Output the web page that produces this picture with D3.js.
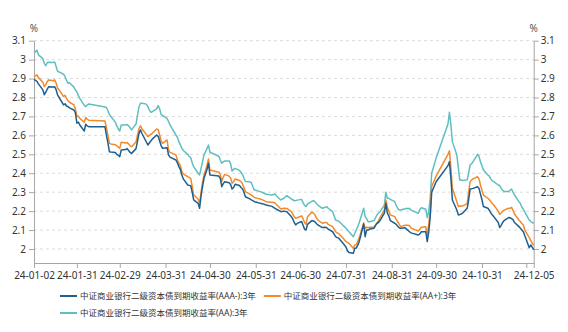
<!DOCTYPE html>
<html><head><meta charset="utf-8">
<script src="https://cdn.jsdelivr.net/npm/d3@7"></script>
<style>
html,body{margin:0;padding:0;background:#fff;}
svg{display:block;font-family:"Noto Sans","Noto Sans CJK SC",sans-serif;}
</style></head><body>
<svg id="chart" width="568" height="332"></svg>
<script>
const dates = ["2024-01-02","2024-01-03","2024-01-04","2024-01-05","2024-01-08","2024-01-09","2024-01-10","2024-01-11","2024-01-12","2024-01-15","2024-01-16","2024-01-17","2024-01-18","2024-01-19","2024-01-22","2024-01-23","2024-01-24","2024-01-25","2024-01-26","2024-01-29","2024-01-30","2024-01-31","2024-02-01","2024-02-02","2024-02-05","2024-02-06","2024-02-07","2024-02-08","2024-02-19","2024-02-20","2024-02-21","2024-02-22","2024-02-23","2024-02-26","2024-02-27","2024-02-28","2024-02-29","2024-03-01","2024-03-04","2024-03-05","2024-03-06","2024-03-07","2024-03-08","2024-03-11","2024-03-12","2024-03-13","2024-03-14","2024-03-15","2024-03-18","2024-03-19","2024-03-20","2024-03-21","2024-03-22","2024-03-25","2024-03-26","2024-03-27","2024-03-28","2024-03-29","2024-04-01","2024-04-02","2024-04-03","2024-04-07","2024-04-08","2024-04-09","2024-04-10","2024-04-11","2024-04-12","2024-04-15","2024-04-16","2024-04-17","2024-04-18","2024-04-19","2024-04-22","2024-04-23","2024-04-24","2024-04-25","2024-04-26","2024-04-28","2024-04-29","2024-04-30","2024-05-06","2024-05-07","2024-05-08","2024-05-09","2024-05-10","2024-05-13","2024-05-14","2024-05-15","2024-05-16","2024-05-17","2024-05-20","2024-05-21","2024-05-22","2024-05-23","2024-05-24","2024-05-27","2024-05-28","2024-05-29","2024-05-30","2024-05-31","2024-06-03","2024-06-05","2024-06-07","2024-06-11","2024-06-13","2024-06-14","2024-06-17","2024-06-19","2024-06-21","2024-06-24","2024-06-25","2024-06-26","2024-06-27","2024-06-28","2024-07-01","2024-07-02","2024-07-03","2024-07-04","2024-07-05","2024-07-08","2024-07-09","2024-07-10","2024-07-11","2024-07-12","2024-07-15","2024-07-17","2024-07-18","2024-07-19","2024-07-22","2024-07-23","2024-07-24","2024-07-25","2024-07-26","2024-07-29","2024-07-30","2024-07-31","2024-08-01","2024-08-02","2024-08-05","2024-08-06","2024-08-07","2024-08-08","2024-08-09","2024-08-12","2024-08-13","2024-08-14","2024-08-15","2024-08-16","2024-08-19","2024-08-20","2024-08-21","2024-08-22","2024-08-23","2024-08-26","2024-08-27","2024-08-28","2024-08-29","2024-08-30","2024-09-02","2024-09-03","2024-09-04","2024-09-05","2024-09-06","2024-09-09","2024-09-10","2024-09-11","2024-09-12","2024-09-13","2024-09-18","2024-09-19","2024-09-20","2024-09-23","2024-09-24","2024-09-25","2024-09-26","2024-09-27","2024-09-30","2024-10-08","2024-10-09","2024-10-10","2024-10-11","2024-10-14","2024-10-15","2024-10-16","2024-10-17","2024-10-18","2024-10-21","2024-10-22","2024-10-23","2024-10-24","2024-10-25","2024-10-28","2024-10-29","2024-10-30","2024-10-31","2024-11-01","2024-11-04","2024-11-05","2024-11-06","2024-11-07","2024-11-08","2024-11-11","2024-11-12","2024-11-13","2024-11-14","2024-11-15","2024-11-18","2024-11-19","2024-11-20","2024-11-21","2024-11-22","2024-11-25","2024-11-26","2024-11-27","2024-11-28","2024-11-29","2024-12-02","2024-12-03","2024-12-04","2024-12-05"];

const yieldAAAminus = [2.896,2.890,2.885,2.872,2.840,2.815,2.828,2.845,2.857,2.855,2.857,2.840,2.813,2.800,2.761,2.767,2.755,2.752,2.745,2.734,2.720,2.664,2.670,2.655,2.623,2.659,2.650,2.646,2.646,2.600,2.560,2.514,2.512,2.510,2.500,2.495,2.488,2.523,2.525,2.530,2.520,2.510,2.505,2.530,2.570,2.610,2.629,2.610,2.565,2.549,2.560,2.570,2.580,2.602,2.595,2.570,2.545,2.532,2.535,2.497,2.485,2.470,2.455,2.435,2.420,2.391,2.370,2.338,2.336,2.334,2.300,2.259,2.241,2.215,2.280,2.330,2.373,2.420,2.453,2.391,2.385,2.373,2.329,2.345,2.355,2.350,2.340,2.317,2.325,2.342,2.335,2.325,2.318,2.300,2.276,2.265,2.259,2.255,2.250,2.248,2.241,2.238,2.232,2.225,2.215,2.210,2.197,2.200,2.197,2.171,2.160,2.140,2.127,2.135,2.145,2.125,2.105,2.100,2.130,2.150,2.148,2.144,2.135,2.127,2.113,2.115,2.112,2.105,2.091,2.078,2.065,2.060,2.058,2.030,2.021,2.010,1.990,1.982,1.977,2.004,2.005,2.020,2.040,2.132,2.065,2.100,2.100,2.105,2.110,2.125,2.136,2.140,2.150,2.189,2.241,2.190,2.175,2.150,2.136,2.130,2.120,2.112,2.109,2.112,2.105,2.098,2.091,2.085,2.074,2.080,2.091,2.091,2.039,2.090,2.170,2.300,2.355,2.440,2.461,2.373,2.259,2.206,2.180,2.182,2.185,2.190,2.215,2.260,2.317,2.318,2.320,2.329,2.320,2.290,2.260,2.224,2.215,2.205,2.190,2.180,2.171,2.140,2.113,2.125,2.140,2.150,2.166,2.165,2.160,2.155,2.140,2.118,2.110,2.100,2.091,2.070,2.007,2.021,2.010,1.995];

const yieldAAplus = [2.910,2.915,2.919,2.905,2.880,2.858,2.868,2.885,2.893,2.888,2.893,2.875,2.849,2.840,2.805,2.812,2.795,2.782,2.775,2.761,2.740,2.699,2.702,2.690,2.669,2.694,2.685,2.680,2.676,2.640,2.600,2.558,2.555,2.550,2.545,2.538,2.532,2.564,2.560,2.562,2.555,2.545,2.540,2.565,2.600,2.635,2.651,2.635,2.605,2.593,2.600,2.605,2.611,2.634,2.630,2.602,2.570,2.558,2.576,2.523,2.510,2.497,2.470,2.453,2.440,2.408,2.395,2.382,2.378,2.373,2.330,2.285,2.264,2.241,2.300,2.350,2.391,2.440,2.475,2.417,2.405,2.394,2.356,2.380,2.394,2.385,2.375,2.347,2.355,2.370,2.362,2.355,2.345,2.325,2.303,2.290,2.285,2.280,2.272,2.270,2.264,2.258,2.250,2.247,2.243,2.235,2.211,2.215,2.214,2.197,2.185,2.170,2.162,2.165,2.175,2.160,2.140,2.130,2.170,2.195,2.190,2.180,2.165,2.153,2.136,2.140,2.140,2.130,2.118,2.105,2.091,2.085,2.082,2.058,2.048,2.040,2.035,2.030,2.004,2.021,2.022,2.040,2.060,2.138,2.109,2.115,2.112,2.115,2.115,2.125,2.136,2.150,2.165,2.206,2.259,2.220,2.200,2.180,2.171,2.155,2.144,2.130,2.118,2.125,2.125,2.125,2.123,2.110,2.095,2.105,2.115,2.118,2.074,2.130,2.200,2.330,2.385,2.500,2.518,2.426,2.321,2.250,2.224,2.228,2.225,2.228,2.240,2.300,2.356,2.365,2.370,2.382,2.370,2.338,2.310,2.285,2.268,2.260,2.250,2.240,2.232,2.200,2.183,2.190,2.200,2.205,2.215,2.215,2.220,2.205,2.185,2.153,2.145,2.135,2.127,2.100,2.060,2.045,2.030,2.020];

const yieldAA = [3.046,3.040,3.050,3.025,3.005,2.980,2.968,2.985,2.986,2.985,2.988,2.962,2.937,2.935,2.923,2.910,2.890,2.875,2.878,2.855,2.840,2.830,2.810,2.795,2.758,2.752,2.760,2.766,2.750,2.747,2.730,2.710,2.700,2.670,2.650,2.635,2.623,2.655,2.655,2.657,2.650,2.640,2.629,2.660,2.705,2.750,2.770,2.770,2.765,2.752,2.735,2.722,2.725,2.740,2.757,2.740,2.711,2.705,2.690,2.673,2.655,2.602,2.590,2.567,2.550,2.532,2.520,2.500,2.490,2.482,2.455,2.435,2.400,2.391,2.426,2.460,2.497,2.530,2.549,2.511,2.490,2.470,2.453,2.460,2.465,2.465,2.450,2.412,2.420,2.426,2.415,2.405,2.394,2.375,2.356,2.355,2.350,2.330,2.312,2.310,2.303,2.297,2.289,2.285,2.290,2.280,2.259,2.268,2.282,2.265,2.260,2.255,2.256,2.258,2.262,2.245,2.230,2.224,2.238,2.252,2.255,2.250,2.240,2.232,2.215,2.220,2.224,2.215,2.197,2.175,2.153,2.150,2.148,2.125,2.118,2.110,2.100,2.091,2.065,2.083,2.100,2.118,2.140,2.215,2.171,2.160,2.144,2.144,2.150,2.165,2.180,2.190,2.197,2.232,2.300,2.268,2.268,2.262,2.250,2.230,2.215,2.206,2.206,2.212,2.215,2.212,2.215,2.205,2.189,2.210,2.218,2.210,2.166,2.200,2.268,2.400,2.480,2.660,2.722,2.655,2.567,2.497,2.430,2.364,2.364,2.362,2.365,2.400,2.444,2.450,2.461,2.500,2.490,2.460,2.440,2.417,2.391,2.385,2.370,2.360,2.356,2.338,2.335,2.320,2.310,2.303,2.303,2.310,2.317,2.300,2.285,2.250,2.240,2.220,2.210,2.195,2.153,2.145,2.140,2.136];

const seriesNames = ["中证商业银行二级资本债到期收益率(AAA-):3年","中证商业银行二级资本债到期收益率(AA+):3年","中证商业银行二级资本债到期收益率(AA):3年"];
const seriesColors = ["#1f5f8e","#f28a2c","#5fbfc0"];
const xTickDates = ["2024-01-02","2024-01-31","2024-02-29","2024-03-31","2024-04-30","2024-05-31","2024-06-30","2024-07-31","2024-08-31","2024-09-30","2024-10-31","2024-11-30","2024-12-05"];
const xHiddenLabels = ["2024-11-30"];
const yTicks = [2.0,2.1,2.2,2.3,2.4,2.5,2.6,2.7,2.8,2.9,3.0,3.1];
const yUnit = "%";

(function(){
const parse = d3.timeParse("%Y-%m-%d");
const fmt = d3.timeFormat("%y-%m-%d");
const svg = d3.select("#chart");

const pLeft = 34, pRight = 533.7, pTop = 40.7, pBottom = 263;
const x = d3.scaleTime().domain([parse(dates[0]), parse(dates[dates.length-1])]).range([pLeft, pRight]);
const y = d3.scaleLinear().domain([1.926, 3.1]).range([pBottom, pTop]);

// grid
svg.append("g").selectAll("line").data(yTicks).join("line")
  .attr("x1", pLeft).attr("x2", pRight)
  .attr("y1", d => y(d)).attr("y2", d => y(d))
  .attr("stroke", "#dcdcdc").attr("stroke-width", 1).attr("stroke-dasharray", "3,3");

const yFmt = d => String(+d.toFixed(1));
function styleAxis(g){
  g.selectAll(".domain").attr("stroke", "#a6a6a6");
  g.selectAll(".tick line").attr("stroke", "#a6a6a6");
  g.selectAll(".tick text").attr("fill", "#333").attr("font-size", "10px")
    .attr("font-family", "'Noto Sans','Noto Sans CJK SC',sans-serif");
}
svg.append("g").attr("transform", `translate(${pLeft},0)`)
  .call(d3.axisLeft(y).tickValues(yTicks).tickFormat(yFmt).tickSize(5).tickPadding(3).tickSizeOuter(0))
  .call(styleAxis);
svg.append("g").attr("transform", `translate(${pRight},0)`)
  .call(d3.axisRight(y).tickValues(yTicks).tickFormat(yFmt).tickSize(5).tickPadding(2).tickSizeOuter(0))
  .call(styleAxis);
svg.append("g").attr("transform", `translate(0,${pBottom})`)
  .call(d3.axisBottom(x).tickValues(xTickDates.map(parse))
    .tickFormat(d => xHiddenLabels.includes(d3.timeFormat("%Y-%m-%d")(d)) ? "" : fmt(d))
    .tickSize(5).tickPadding(4).tickSizeOuter(0))
  .call(styleAxis);

// unit labels
[pLeft, pRight].forEach(px => {
  svg.append("text").attr("x", px).attr("y", 31.5).attr("text-anchor", "middle")
    .attr("font-size", "10px").attr("fill", "#555").text(yUnit);
});

// lines
const allSeries = [yieldAAAminus, yieldAAplus, yieldAA];
const line = d3.line().x(d => x(d.date)).y(d => y(d.v));
[2, 1, 0].forEach(i => {
  const pts = dates.map((d, k) => ({date: parse(d), v: allSeries[i][k]}));
  svg.append("path").datum(pts).attr("d", line)
    .attr("fill", "none").attr("stroke", seriesColors[i]).attr("stroke-width", 1.5)
    .attr("stroke-linejoin", "round");
});

// legend
const legendFont = 8.5;
const legendPos = [{x: 60, y: 296}, {x: null, y: 296}, {x: 60, y: 313}];
let prevEnd = 0;
seriesNames.forEach((name, i) => {
  const lx = legendPos[i].x === null ? prevEnd + 8 : legendPos[i].x;
  const ly = legendPos[i].y;
  const g = svg.append("g");
  g.append("line").attr("x1", lx).attr("x2", lx + 17).attr("y1", ly).attr("y2", ly)
    .attr("stroke", seriesColors[i]).attr("stroke-width", 2);
  const t = g.append("text").attr("x", lx + 20).attr("y", ly).attr("dy", "0.35em")
    .attr("font-size", legendFont + "px").attr("fill", "#333").text(name);
  prevEnd = lx + 20 + t.node().getComputedTextLength();
});
})();
</script>
</body></html>
